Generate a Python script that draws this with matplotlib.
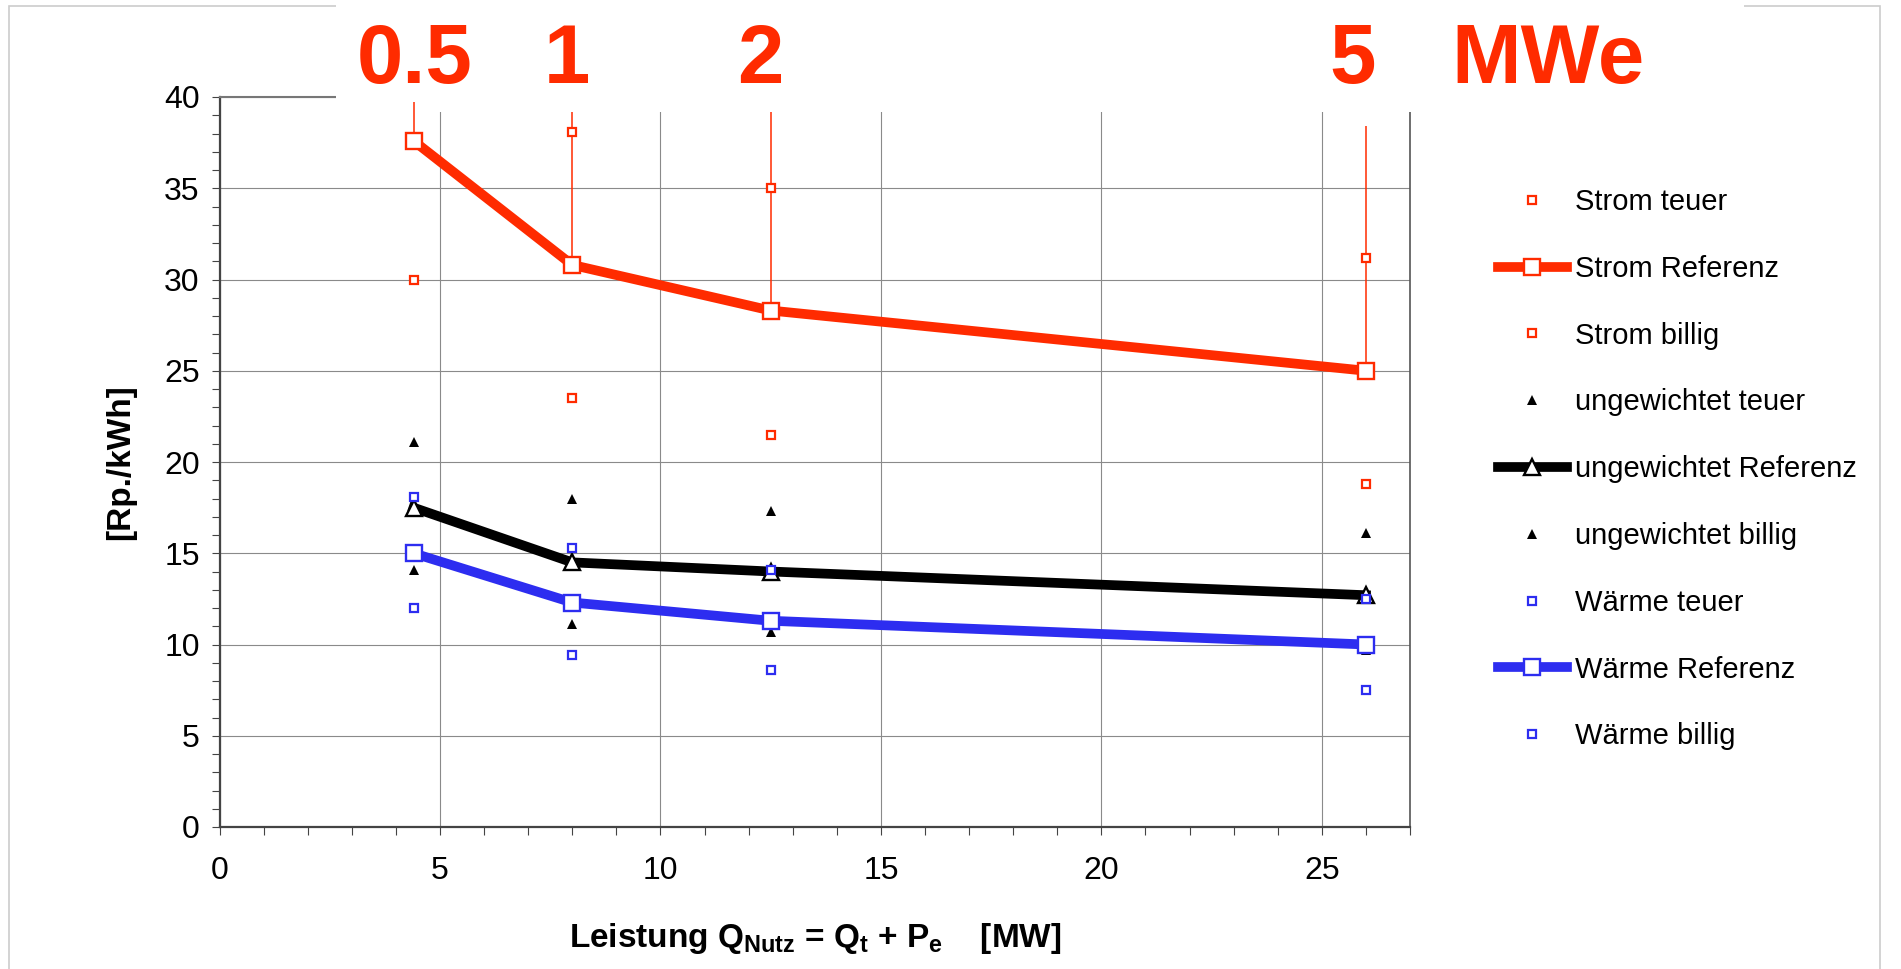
import matplotlib.pyplot as plt
import numpy as np
from matplotlib.patches import Rectangle
from matplotlib.ticker import MultipleLocator

plt.rcParams["font.family"] = ["Liberation Sans", "DejaVu Sans"]
plt.rcParams["mathtext.fontset"] = "custom"
plt.rcParams["mathtext.rm"] = "Liberation Sans"
plt.rcParams["mathtext.bf"] = "Liberation Sans:bold"

# Leistung Q_Nutz [MW] der Anlagen mit 0.5, 1, 2, 5 MWe
leistung = [4.4, 8.0, 12.5, 26.0]
mwe_labels = ["0.5", "1", "2", "5"]

# Gestehungskosten [Rp./kWh]
strom_teuer = [np.nan, 38.1, 35.0, 31.2]
strom_ref = [37.6, 30.8, 28.3, 25.0]
strom_billig = [30.0, 23.5, 21.5, 18.8]

ungew_teuer = [21.1, 18.0, 17.3, 16.1]
ungew_ref = [17.5, 14.5, 14.0, 12.7]
ungew_billig = [14.1, 11.1, 10.7, 9.7]

waerme_teuer = [18.1, 15.3, 14.1, 12.5]
waerme_ref = [15.0, 12.3, 11.3, 10.0]
waerme_billig = [12.0, 9.4, 8.6, 7.5]

# upper end of the red callout lines (in y units)
callout_top = [39.7, 39.2, 39.2, 38.4]

RED = "#ff2b00"
BLUE = "#2d2df0"
W, H = 1901, 969

fig = plt.figure(figsize=(W / 100, H / 100), dpi=100)
fig.patch.set_facecolor("white")

# light outer frame of the slide
fig.add_artist(Rectangle((9 / W, -0.05), 1871 / W, 1.05 - 6 / H, transform=fig.transFigure,
                         fill=False, edgecolor="#cccccc", lw=1.2, zorder=-1))

ax = fig.add_axes([219.5 / W, 1 - 827 / H, 1190.5 / W, 730 / H])
ax.set_facecolor("white")

small = dict(linestyle="none", markersize=5.5, markeredgewidth=1.6, markerfacecolor="white")
tri = dict(linestyle="none", marker="^", markersize=6.5, markeredgewidth=0, color="black")
ref = dict(lw=7, markersize=12, markeredgewidth=1.7, markerfacecolor="white")

z = 10
ax.plot(leistung, strom_teuer, marker="s", color=RED, label="Strom teuer", zorder=z + 1, **small)
ax.plot(leistung, strom_ref, marker="s", color=RED, label="Strom Referenz", zorder=z + 2, **ref)
ax.plot(leistung, strom_billig, marker="s", color=RED, label="Strom billig", zorder=z + 3, **small)
ax.plot(leistung, ungew_teuer, label="ungewichtet teuer", zorder=z + 4, **tri)
ax.plot(leistung, ungew_ref, marker="^", color="black", label="ungewichtet Referenz", zorder=z + 5, **ref)
ax.plot(leistung, ungew_billig, label="ungewichtet billig", zorder=z + 6, **tri)
ax.plot(leistung, waerme_teuer, marker="s", color=BLUE, label="Wärme teuer", zorder=z + 7, **small)
ax.plot(leistung, waerme_ref, marker="s", color=BLUE, label="Wärme Referenz", zorder=z + 8, **ref)
ax.plot(leistung, waerme_billig, marker="s", color=BLUE, label="Wärme billig", zorder=z + 9, **small)

# red callout lines from the Strom Referenz points up to the MWe labels
ax.vlines(leistung, strom_ref, callout_top, colors=RED, lw=1.1, zorder=6, clip_on=False)

ax.set_xlim(0, 27)
ax.set_ylim(0, 40)
ax.set_xticks(np.arange(0, 26, 5))
ax.set_yticks(np.arange(0, 41, 5))
ax.xaxis.set_minor_locator(MultipleLocator(1))
ax.yaxis.set_minor_locator(MultipleLocator(1))
ax.tick_params(which="both", direction="out", length=5.8, width=0.8, color="#444444",
               labelsize=23)
ax.tick_params(axis="x", which="major", pad=15)
ax.tick_params(axis="y", which="major", pad=8.5)
ax.grid(which="major", color="#8a8a8a", lw=0.8)
for side in ["left", "bottom"]:
    ax.spines[side].set_color("#444444")
    ax.spines[side].set_linewidth(1.6)
ax.spines["top"].set_color("#777777")
ax.spines["top"].set_linewidth(1.5)
ax.spines["right"].set_color("#555555")
ax.spines["right"].set_linewidth(1.2)

ax.set_ylabel("[Rp./kWh]", fontsize=24, fontweight="bold")
ax.yaxis.set_label_coords(-0.070, 0.5)
ax.set_xlabel(r"Leistung Q$_{\mathbf{Nutz}}$ = Q$_{\mathbf{t}}$ + P$_{\mathbf{e}}$    [MW]",
              fontsize=24, fontweight="bold")
ax.xaxis.set_label_coords(0.5, -0.1285)

ax.legend(loc="upper left", bbox_to_anchor=(1498 / W, 1 - 188 / H), bbox_transform=fig.transFigure,
          frameon=False, fontsize=21, handlelength=2.35, handletextpad=0.28, labelspacing=1.33,
          borderpad=0, borderaxespad=0, numpoints=1)

# white overlay box with the electric power labels
ax.add_patch(Rectangle((336 / W, 1 - 112 / H), 1408 / W, 112 / H, transform=fig.transFigure,
                       facecolor="white", edgecolor="none", zorder=5, clip_on=False))
label_x = [415, 567, 760, 1353]
for lx, s in zip(label_x, mwe_labels):
    fig.text(lx / W, 1 - 83 / H, s, fontsize=60, fontweight="bold", color=RED,
             ha="center", va="baseline", zorder=10)
fig.text(1548 / W, 1 - 83 / H, "MWe", fontsize=60, fontweight="bold", color=RED,
         ha="center", va="baseline", zorder=10)

fig.savefig("out.png", dpi=100)
